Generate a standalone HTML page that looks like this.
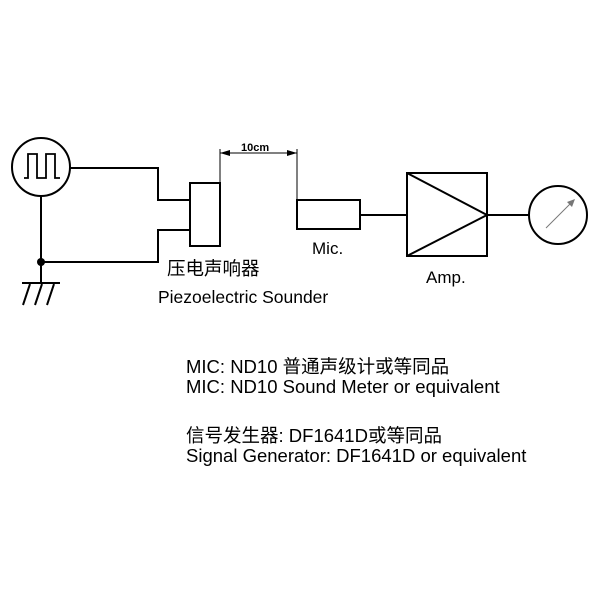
<!DOCTYPE html>
<html><head><meta charset="utf-8"><style>
html,body{margin:0;padding:0;background:#fff;}
svg{display:block;}
text{font-family:"Liberation Sans","Noto Sans CJK SC",sans-serif;fill:#000;}
</style></head><body>
<svg width="600" height="600" viewBox="0 0 600 600" xmlns="http://www.w3.org/2000/svg">
<g fill="none" stroke="#000" stroke-width="2">
<circle cx="41" cy="167" r="29"/>
<polyline points="24,178 28,178 28,154 37,154 37,178 46,178 46,154 55,154 55,178 60,178" stroke-width="1.8"/>
<polyline points="70,168 158,168 158,200 190,200"/>
<polyline points="190,230 158,230 158,262 41,262"/>
<line x1="41" y1="196" x2="41" y2="283"/>
<line x1="22" y1="283" x2="60" y2="283"/>
<line x1="30" y1="284" x2="23" y2="305"/>
<line x1="42" y1="284" x2="35" y2="305"/>
<line x1="54" y1="284" x2="47" y2="305"/>
<rect x="190" y="183" width="30" height="63"/>
<rect x="297" y="200" width="63" height="29"/>
<line x1="360" y1="215" x2="407" y2="215"/>
<rect x="407" y="173" width="80" height="83"/>
<polyline points="407,173 487,215 407,256"/>
<line x1="487" y1="215" x2="529" y2="215"/>
<circle cx="558" cy="215" r="29"/>
</g>
<circle cx="41" cy="262" r="4" fill="#000"/>
<line x1="546" y1="228" x2="573" y2="201" stroke="#777" stroke-width="1"/>
<polygon points="575,199 567,202 572,207" fill="#777"/>
<g stroke="#000" stroke-width="1">
<line x1="220" y1="183" x2="220" y2="149"/>
<line x1="297" y1="200" x2="297" y2="149"/>
<line x1="220" y1="153" x2="297" y2="153"/>
</g>
<polygon points="220,153 230,150 230,156" fill="#000"/>
<polygon points="297,153 287,150 287,156" fill="#000"/>
<text x="241" y="151" font-size="11" font-weight="bold">10cm</text>
<text x="167" y="275" font-size="18.5">压电声响器</text>
<text x="158" y="303" font-size="17.5">Piezoelectric Sounder</text>
<text x="312" y="254" font-size="17">Mic.</text>
<text x="426" y="283" font-size="17">Amp.</text>
<text x="186" y="373" font-size="18.5">MIC: ND10 普通声级计或等同品</text>
<text x="186" y="393" font-size="18.5">MIC: ND10 Sound Meter or equivalent</text>
<text x="186" y="442" font-size="18.5">信号发生器: DF1641D或等同品</text>
<text x="186" y="462" font-size="18.5">Signal Generator: DF1641D or equivalent</text>
</svg>
</body></html>
